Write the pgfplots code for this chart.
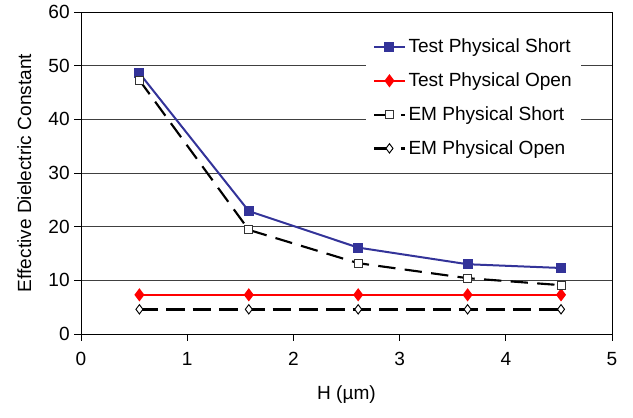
\documentclass[border=0pt]{standalone}
\usepackage{fontspec}
\setmainfont{Liberation Sans}
\usepackage{pgfplots}
\pgfplotsset{compat=1.18}
\definecolor{tblue}{RGB}{51,51,153}
\newcommand{\chartfont}{\fontsize{14.3}{17}\selectfont}
\begin{document}
\begin{tikzpicture}
\begin{axis}[
  scale only axis, width=398.25pt, height=241.5pt,
  xmin=0, xmax=5, ymin=0, ymax=60,
  xtick={0,1,2,3,4,5}, ytick={0,10,20,30,40,50,60},
  xtick pos=left, ytick pos=left, tick align=outside, major tick length=5pt,
  tick style={black, line width=0.6pt},
  ymajorgrids, grid style={black!75, line width=0.6pt},
  axis line style={black, line width=0.7pt},
  /pgf/number format/assume math mode=true,
  tick label style={font=\chartfont},
  xticklabel style={yshift=-5pt},
  label style={font=\chartfont},
  xlabel={H (µm)}, ylabel={Effective Dielectric Constant},
  xlabel style={yshift=-8pt},
  ylabel style={yshift=6pt},
  legend style={at={(0.537,0.95)}, anchor=north west, draw=none, fill=white,
    font=\chartfont, row sep=9.5pt, inner xsep=5pt, inner ysep=6pt},
  legend cell align=left,
  legend image code/.code={\draw[mark repeat=2,mark phase=2] plot coordinates {(0cm,0cm)(0.4cm,0cm)(0.8cm,0cm)};},
]
\addplot[tblue, line width=1.5pt, mark=square*, mark size=3pt, mark options={fill=tblue}]
  coordinates {(0.55,48.6) (1.58,22.9) (2.61,16.1) (3.64,13.0) (4.52,12.3)};
\addlegendentry{Test Physical Short}
\addplot[red, line width=1.8pt, mark=diamond*, mark size=3.5pt, mark options={fill=red}]
  coordinates {(0.55,7.3) (1.58,7.3) (2.61,7.3) (3.64,7.3) (4.52,7.3)};
\addlegendentry{Test Physical Open}
\addplot[black, line width=1.6pt, dash pattern=on 13pt off 7pt, mark=square*, mark size=3pt,
  mark options={solid, fill=white, draw=black!80, line width=0.7pt}]
  coordinates {(0.55,47.3) (1.58,19.4) (2.61,13.2) (3.64,10.4) (4.52,9.1)};
\addlegendentry{EM Physical Short}
\addplot[black, line width=1.8pt, dash pattern=on 14pt off 6pt, mark=diamond*, mark size=3.5pt,
  mark options={solid, fill=white, draw=black, line width=0.7pt}]
  coordinates {(0.55,4.6) (1.58,4.6) (2.61,4.6) (3.64,4.6) (4.52,4.6)};
\addlegendentry{EM Physical Open}
\end{axis}
\pgfresetboundingbox
\path[use as bounding box] ([xshift=-60.75pt,yshift=-62.25pt]current axis.south west)
  rectangle ([xshift=15.75pt,yshift=9pt]current axis.north east);
\end{tikzpicture}
\end{document}
